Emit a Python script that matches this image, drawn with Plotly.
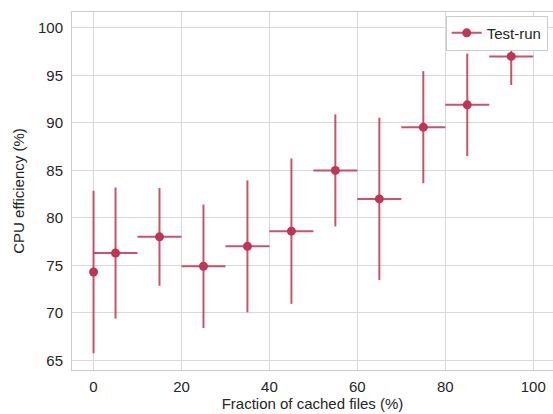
import plotly.graph_objects as go

# Data
fraction_cached = [0, 5, 15, 25, 35, 45, 55, 65, 75, 85, 95]
cpu_efficiency = [74.3, 76.3, 78.0, 74.9, 77.0, 78.6, 85.0, 82.0, 89.55, 91.9, 97.0]
cpu_err = [8.55, 6.9, 5.15, 6.5, 6.95, 7.65, 5.9, 8.55, 5.9, 5.4, 3.0]
fraction_err = [0, 5, 5, 5, 5, 5, 5, 5, 5, 5, 5]
x_ticks = [0, 20, 40, 60, 80, 100]
y_ticks = [65, 70, 75, 80, 85, 90, 95, 100]
series_name = "Test-run"

mark_color = "#bf3553"
bar_color = "rgba(191,53,83,0.85)"
font_family = "Liberation Sans, Arial, sans-serif"

fig = go.Figure()
fig.add_trace(go.Scatter(
    x=fraction_cached, y=cpu_efficiency, mode="markers",
    marker=dict(color=mark_color, size=9),
    error_y=dict(type="data", array=cpu_err, symmetric=True,
                 color=bar_color, thickness=2, width=0),
    error_x=dict(type="data", array=fraction_err, symmetric=True,
                 color=bar_color, thickness=2, width=0),
    showlegend=False,
))
# legend entry
fig.add_trace(go.Scatter(
    x=[None], y=[None], mode="lines+markers", name=series_name,
    marker=dict(color=mark_color, size=9),
    line=dict(color=bar_color, width=2),
))

axis_common = dict(
    showgrid=True, gridcolor="#d9d9d9", gridwidth=1,
    showline=True, linecolor="#cccccc", linewidth=1, mirror=True,
    zeroline=False, ticks="", tickfont=dict(size=15, color="#262626"),
    title_font=dict(size=15, color="#262626"),
)

fig.update_layout(
    width=553, height=414,
    margin=dict(l=72, r=0, t=12, b=44, pad=0),
    paper_bgcolor="white", plot_bgcolor="white",
    font=dict(family=font_family, color="#262626"),
    xaxis=dict(range=[-4.9, 104.5], tickvals=x_ticks, ticklabelstandoff=3,
               title=dict(text="Fraction of cached files (%)", standoff=4),
               **axis_common),
    yaxis=dict(range=[63.98, 101.68], tickvals=y_ticks, ticklabelstandoff=5,
               title=dict(text="CPU efficiency (%)", standoff=9),
               **axis_common),
    legend=dict(x=0.989, y=0.99, xanchor="right", yanchor="top",
                bgcolor="white", bordercolor="#cccccc", borderwidth=1,
                font=dict(size=15, color="#262626"), itemwidth=30),
)

fig.write_html("out.html", config={"displayModeBar": False},
               post_script="document.body.style.margin='0';document.body.style.overflow='hidden';")
